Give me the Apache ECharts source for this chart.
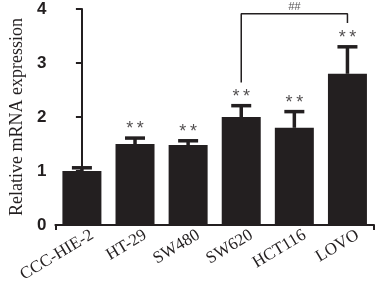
<!DOCTYPE html>
<html><head><meta charset="utf-8">
<script src="https://cdn.jsdelivr.net/npm/echarts@6/dist/echarts.min.js"></script>
<style>html,body{margin:0;padding:0;background:#fff}#c{width:375px;height:285px}</style>
</head><body><div id="c"></div>
<script>
const categories = ['CCC-HIE-2', 'HT-29', 'SW480', 'SW620', 'HCT116', 'LOVO'];
const means = [1.0, 1.5, 1.48, 2.0, 1.8, 2.8];
const errors = [0.06, 0.11, 0.08, 0.21, 0.3, 0.5];
const stars = ['', '*\u2009*', '*\u2009*', '*\u2009*', '*\u2009*', '*\u2009*'];
const yTicks = [0, 1, 2, 3, 4];
const bracketX = ['SW620', 'SW620', 'LOVO', 'LOVO'];
const bracketY = [2.64, 3.91, 3.91, 3.74];
const bracketLabel = '##';

const dark = '#231f20';
const chart = echarts.init(document.getElementById('c'), null, {renderer: 'canvas'});

const errData = means.map((m, i) => [i, m, m + errors[i]]);
const starData = means.map((m, i) => ({value: [i, m + errors[i]], label: {formatter: stars[i]}}));
const bracketData = bracketX.map((c, i) => [c, bracketY[i]]);
const bracketMid = (categories.indexOf(bracketX[0]) + categories.indexOf(bracketX[2])) / 2;

chart.setOption({
  animation: false,
  grid: {left: 44, right: 1, top: 9, bottom: 59},
  xAxis: [{
    type: 'category', data: categories,
    axisLine: {lineStyle: {color: dark, width: 2}},
    axisTick: {show: true, length: 5, interval: function (i) { return i === 3; }, lineStyle: {color: dark, width: 2}},
    axisLabel: {rotate: 31, margin: 15, padding: [0, -12, 0, 0], fontFamily: 'Liberation Serif', fontSize: 17, color: dark}
  }, {
    type: 'value', min: -0.5, max: 5.5, show: false
  }],
  yAxis: {
    type: 'value', min: yTicks[0], max: yTicks[yTicks.length - 1], interval: 1,
    name: 'Relative mRNA expression', nameLocation: 'middle', nameGap: 28,
    nameTextStyle: {fontFamily: 'Liberation Serif', fontSize: 18, color: dark},
    axisLine: {show: true, lineStyle: {color: dark, width: 2}},
    axisTick: {show: true, length: 6, lineStyle: {color: dark, width: 2}},
    axisLabel: {margin: 9, fontFamily: 'Liberation Sans', fontWeight: 'bold', fontSize: 17, color: dark},
    splitLine: {show: false}
  },
  series: [{
    type: 'bar', data: means, barWidth: 39, itemStyle: {color: dark}, z: 2
  }, {
    type: 'custom', data: errData, z: 3,
    renderItem: function (params, api) {
      const x = api.value(0);
      const base = api.coord([x, api.value(1)]);
      const top = api.coord([x, api.value(2)]);
      const half = 10;
      return {type: 'group', children: [
        {type: 'line', shape: {x1: base[0], y1: base[1], x2: top[0], y2: top[1]}, style: {stroke: dark, lineWidth: 3.5}},
        {type: 'line', shape: {x1: top[0] - half, y1: top[1], x2: top[0] + half, y2: top[1]}, style: {stroke: dark, lineWidth: 3.5}}
      ]};
    }
  }, {
    type: 'scatter', data: starData, symbolSize: 0, z: 4,
    label: {show: true, position: 'top', distance: 0, fontFamily: 'Liberation Sans', fontSize: 18, color: dark}
  }, {
    type: 'line', data: bracketData, symbol: 'none', z: 4,
    lineStyle: {color: dark, width: 1.5}
  }, {
    type: 'scatter', xAxisIndex: 1, data: [[bracketMid, bracketY[1]]], symbolSize: 0, z: 4,
    label: {show: true, formatter: bracketLabel, position: 'top', distance: 1, fontFamily: 'Liberation Sans', fontStyle: 'italic', fontSize: 11, color: dark}
  }]
});
</script></body></html>
